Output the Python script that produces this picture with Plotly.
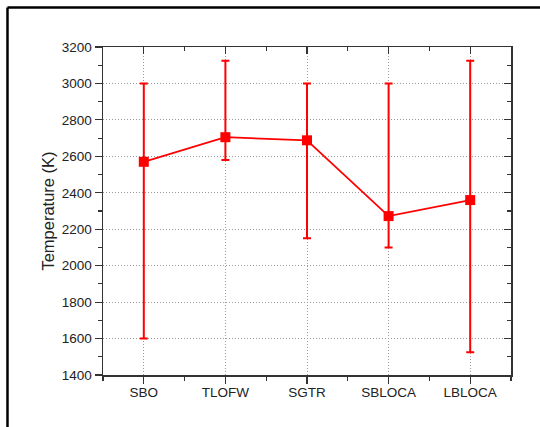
import plotly.graph_objects as go

categories = ["SBO", "TLOFW", "SGTR", "SBLOCA", "LBLOCA"]
temps = [2570, 2705, 2688, 2272, 2360]
upper = [3000, 3125, 3000, 3000, 3125]
lower = [1600, 2580, 2150, 2100, 1525]
yticks = [1400, 1600, 1800, 2000, 2200, 2400, 2600, 2800, 3000, 3200]

xpos = list(range(len(categories)))
err_plus = [u - t for u, t in zip(upper, temps)]
err_minus = [t - l for t, l in zip(temps, lower)]

FONT = "Liberation Sans, Arial, sans-serif"
RED = "#ff0000"
AX = "#333333"
GRID = "#9a9a9a"

fig = go.Figure()
fig.add_trace(go.Scatter(
    x=xpos, y=temps, mode="lines+markers",
    line=dict(color=RED, width=1.8),
    marker=dict(symbol="square", size=10, color=RED),
    error_y=dict(type="data", symmetric=False, array=err_plus, arrayminus=err_minus,
                 color=RED, thickness=2, width=4),
    showlegend=False, hoverinfo="skip",
))
# helper trace so the mirrored (top/right) axes get drawn
fig.add_trace(go.Scatter(
    x=xpos, y=temps, xaxis="x2", yaxis="y2", mode="markers",
    marker=dict(opacity=0), showlegend=False, hoverinfo="skip",
))

common_x = dict(range=[-0.5, 4.5], tickvals=xpos, showline=True, linecolor=AX,
                linewidth=1.5, tickcolor=AX, tickwidth=1.2, zeroline=False)
common_y = dict(range=[1400, 3200], tickvals=yticks, showline=True, linecolor=AX,
                linewidth=1.5, tickcolor=AX, tickwidth=1.2, zeroline=False)

fig.update_layout(
    width=540, height=427,
    margin=dict(l=103, r=29, t=47, b=52),
    paper_bgcolor="white", plot_bgcolor="white",
    font=dict(family=FONT, size=13.5, color="#222222"),
    xaxis=dict(**common_x, ticktext=categories, ticks="outside", ticklen=7,
               ticklabelstandoff=-3,
               showgrid=True, gridcolor=GRID, griddash="1px,2px", gridwidth=1,
               minor=dict(tick0=0.5, dtick=1, ticks="outside", ticklen=4,
                          tickcolor=AX, tickwidth=1.2, showgrid=False)),
    xaxis2=dict(**common_x, overlaying="x", side="top", anchor="y",
                ticks="inside", ticklen=7, showticklabels=False, showgrid=False,
                minor=dict(tick0=0.5, dtick=1, ticks="inside", ticklen=4,
                           tickcolor=AX, tickwidth=1.2, showgrid=False)),
    yaxis=dict(**common_y, ticks="outside", ticklen=7,
               showgrid=True, gridcolor=GRID, griddash="1px,2px", gridwidth=1,
               title=dict(text="Temperature (K)", font=dict(size=16.5), standoff=3),
               minor=dict(dtick=100, tick0=1400, ticks="outside", ticklen=4,
                          tickcolor=AX, tickwidth=1.2, showgrid=False)),
    yaxis2=dict(**common_y, overlaying="y", side="right", anchor="x",
                ticks="inside", ticklen=7, showticklabels=False, showgrid=False,
                minor=dict(dtick=100, tick0=1400, ticks="inside", ticklen=4,
                           tickcolor=AX, tickwidth=1.2, showgrid=False)),
    shapes=[
        dict(type="line", xref="paper", yref="paper", x0=-0.2341, x1=-0.2341,
             y0=-0.25, y1=1.1204, line=dict(color="black", width=2.5)),
        dict(type="line", xref="paper", yref="paper", x0=-0.2341, x1=1.2,
             y0=1.1204, y1=1.1204, line=dict(color="black", width=2.5)),
    ],
)

fig.write_html(
    "out.html",
    config={"displayModeBar": False, "staticPlot": True},
    post_script="document.body.style.margin='0';document.body.style.padding='0';",
)
